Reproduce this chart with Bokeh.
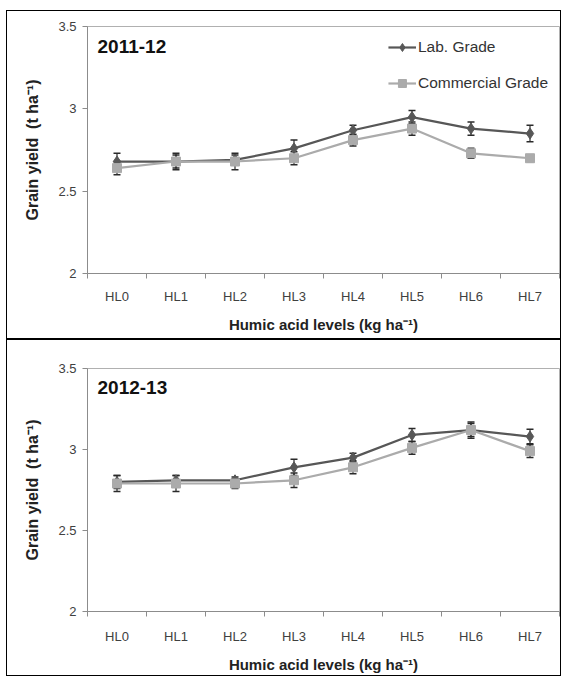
import numpy as np
from bokeh.plotting import figure
from bokeh.models import (ColumnDataSource, Whisker, TeeHead, FixedTicker,
                          CustomJSTickFormatter, Label, Range1d)
from bokeh.layouts import column
from bokeh.embed import file_html
from bokeh.resources import INLINE

levels = ["HL0", "HL1", "HL2", "HL3", "HL4", "HL5", "HL6", "HL7"]

lab_2011 = [2.68, 2.68, 2.69, 2.76, 2.87, 2.95, 2.88, 2.85]
lab_2011_err = [0.05, 0.04, 0.03, 0.05, 0.03, 0.04, 0.04, 0.05]
com_2011 = [2.64, 2.68, 2.68, 2.70, 2.81, 2.88, 2.73, 2.70]
com_2011_err = [0.04, 0.05, 0.05, 0.04, 0.035, 0.04, 0.03, 0.02]

lab_2012 = [2.80, 2.81, 2.81, 2.89, 2.95, 3.09, 3.12, 3.08]
lab_2012_err = [0.04, 0.03, 0.02, 0.05, 0.027, 0.04, 0.04, 0.045]
com_2012 = [2.79, 2.79, 2.79, 2.81, 2.89, 3.01, 3.12, 2.99]
com_2012_err = [0.05, 0.05, 0.03, 0.045, 0.04, 0.04, 0.05, 0.04]

y_ticks = [2, 2.5, 3, 3.5]

FONT = "Liberation Sans"
LAB_COLOR = "#575757"
COM_COLOR = "#ababab"
AXIS_COLOR = "#8c8c8c"


def make_panel(season, lab, lab_err, com, com_err, show_legend, height, top, bottom,
               label_standoff, title_standoff):
    n = len(levels)
    x = np.arange(n) + 0.5
    p = figure(width=553, height=height, output_backend="svg", toolbar_location=None,
               x_range=Range1d(0, n), y_range=Range1d(min(y_ticks), max(y_ticks)),
               min_border_left=80, min_border_right=1, min_border_top=top,
               min_border_bottom=bottom)
    p.xgrid.visible = False
    p.ygrid.visible = False
    p.outline_line_color = "#b0b0b0"
    p.background_fill_color = "white"
    p.border_fill_color = "white"

    lab = np.array(lab)
    com = np.array(com)
    lab_err = np.array(lab_err)
    com_err = np.array(com_err)
    src_lab = ColumnDataSource(dict(x=x, y=lab, upper=lab + lab_err, lower=lab - lab_err))
    src_com = ColumnDataSource(dict(x=x, y=com, upper=com + com_err, lower=com - com_err))

    kw_lab = dict(legend_label="Lab. Grade") if show_legend else {}
    kw_com = dict(legend_label="Commercial Grade") if show_legend else {}

    p.line("x", "y", source=src_lab, line_color=LAB_COLOR, line_width=2.2, **kw_lab)
    p.scatter("x", "y", source=src_lab, marker="diamond", size=11,
              fill_color=LAB_COLOR, line_color=LAB_COLOR, **kw_lab)
    p.line("x", "y", source=src_com, line_color=COM_COLOR, line_width=2.2, **kw_com)
    p.scatter("x", "y", source=src_com, marker="square", size=9,
              fill_color=COM_COLOR, line_color=COM_COLOR, **kw_com)

    for src in (src_lab, src_com):
        w = Whisker(source=src, base="x", upper="upper", lower="lower",
                    line_color="#2a2a2a", line_width=1.2,
                    upper_head=TeeHead(size=7, line_color="#2a2a2a", line_width=1.5),
                    lower_head=TeeHead(size=7, line_color="#2a2a2a", line_width=1.5))
        p.add_layout(w)

    p.add_layout(Label(x=0.17, y=3.38, text=season, text_font=FONT,
                       text_font_size="19px", text_font_style="bold",
                       text_baseline="middle", text_color="#111111"))

    # x axis
    xa = p.xaxis[0]
    xa.ticker = FixedTicker(ticks=list(x), minor_ticks=list(range(n + 1)))
    xa.formatter = CustomJSTickFormatter(args=dict(cats=levels),
                                         code="return cats[Math.floor(tick)];")
    xa.major_tick_out = 0
    xa.major_tick_in = 0
    xa.minor_tick_out = 5
    xa.minor_tick_in = 0
    xa.minor_tick_line_color = AXIS_COLOR
    xa.axis_line_color = AXIS_COLOR
    xa.major_label_text_font = FONT
    xa.major_label_text_font_size = "13px"
    xa.major_label_text_color = "#404040"
    xa.major_label_standoff = label_standoff
    xa.axis_label = "Humic acid levels (kg ha\u207b\u00b9)"
    xa.axis_label_text_font = FONT
    xa.axis_label_text_font_size = "15px"
    xa.axis_label_text_font_style = "bold"
    xa.axis_label_text_color = "#222222"
    xa.axis_label_standoff = title_standoff

    # y axis
    ya = p.yaxis[0]
    ya.ticker = FixedTicker(ticks=y_ticks, minor_ticks=[])
    ya.formatter = CustomJSTickFormatter(code="return tick.toString();")
    ya.major_tick_out = 5
    ya.major_tick_in = 0
    ya.minor_tick_out = 0
    ya.major_tick_line_color = AXIS_COLOR
    ya.axis_line_color = AXIS_COLOR
    ya.major_label_text_font = FONT
    ya.major_label_text_font_size = "13px"
    ya.major_label_text_color = "#404040"
    ya.major_label_standoff = 6
    ya.axis_label = "Grain yield \u00a0(t ha\u207b\u00b9)"
    ya.axis_label_text_font = FONT
    ya.axis_label_text_font_size = "16px"
    ya.axis_label_text_font_style = "bold"
    ya.axis_label_text_color = "#222222"
    ya.axis_label_standoff = 14

    if show_legend:
        lg = p.legend[0]
        lg.location = "top_right"
        lg.margin = 5
        lg.padding = 6
        lg.spacing = 16
        lg.label_height = 20
        lg.glyph_height = 20
        lg.glyph_width = 28
        lg.label_standoff = 2
        lg.label_text_font = FONT
        lg.label_text_font_size = "15.5px"
        lg.label_text_color = "#333333"
        lg.border_line_alpha = 0
        lg.background_fill_alpha = 0
    return p


p1 = make_panel("2011-12", lab_2011, lab_2011_err, com_2011, com_2011_err, True,
                327, 15, 65, 10, 9)
p2 = make_panel("2012-13", lab_2012, lab_2012_err, com_2012, com_2012_err, False,
                335, 28, 61, 12, 9)

box1 = column(p1, styles={"border": "1.5px solid black"})
box2 = column(p2, styles={"border": "1.5px solid black"})
layout = column(box1, box2, spacing=0, styles={"margin-left": "6px", "margin-top": "10px"})
open("out.html", "w").write(file_html(layout, INLINE))
